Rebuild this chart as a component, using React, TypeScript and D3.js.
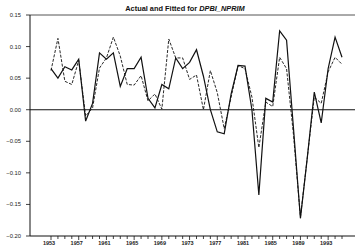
import React from "react";
import * as d3 from "d3";

const years: number[] = d3.range(1953, 1996);
const actual: number[] = [
  0.065, 0.05, 0.068, 0.063, 0.08, -0.018, 0.01, 0.09, 0.08, 0.09,
  0.037, 0.065, 0.065, 0.083, 0.018, 0.003, 0.04, 0.033, 0.082, 0.065,
  0.075, 0.095, 0.053, 0.0, -0.035, -0.038, 0.025, 0.07, 0.069, 0.0,
  -0.135, 0.018, 0.012, 0.125, 0.11, -0.03, -0.172, -0.075, 0.028, -0.021,
  0.065, 0.115, 0.083,
];
const fitted: number[] = [
  0.062, 0.113, 0.045, 0.04, 0.078, -0.01, 0.003, 0.066, 0.082, 0.115,
  0.085, 0.04, 0.039, 0.054, 0.014, 0.025, 0.001, 0.112, 0.082, 0.082,
  0.048, 0.055, 0.0, 0.062, 0.027, -0.03, 0.02, 0.07, 0.065, 0.02,
  -0.06, 0.012, 0.005, 0.083, 0.065, -0.04, -0.17, -0.075, 0.02, 0.01,
  0.06, 0.083, 0.072,
];
const yTicks: number[] = [0.15, 0.1, 0.05, 0.0, -0.05, -0.1, -0.15, -0.2];
const xLabelYears: number[] = d3.range(1953, 1994, 4);
const title = "Actual and Fitted for ";
const titleVar = "DPBI_NPRIM";

export default function App() {
  const W = 358, H = 249;
  const left = 30, right = 355, top = 15, bottom = 236;
  const x = d3.scaleLinear().domain([1953, 1995]).range([51, 342]);
  const y = d3.scaleLinear().domain([-0.2, 0.15]).range([bottom, top]);
  const line = d3
    .line<number>()
    .x((_, i) => x(years[i]))
    .y((d) => y(d));
  const fmt = d3.format(".2f");
  return (
    <svg
      width={W}
      height={H}
      style={{ position: "absolute", left: 0, top: 0, background: "#fff" }}
      fontFamily="Liberation Sans, Arial, sans-serif"
    >
      <rect width={W} height={H} fill="#fff" />
      <text x={185} y={11} textAnchor="middle" fontSize={7.4} fontWeight="bold" fill="#111">
        {title}
        <tspan fontStyle="italic">{titleVar}</tspan>
      </text>
      {/* frame */}
      <line x1={left} x2={right} y1={top} y2={top} stroke="#555" strokeWidth={1} />
      <line x1={left} x2={left} y1={top} y2={bottom} stroke="#111" strokeWidth={1} />
      <line x1={left} x2={right} y1={bottom} y2={bottom} stroke="#111" strokeWidth={1} />
      <line x1={left} x2={right} y1={y(0)} y2={y(0)} stroke="#111" strokeWidth={1.1} />
      {/* y ticks */}
      {yTicks.map((t) => (
        <g key={t}>
          <line x1={left - 4} x2={left} y1={y(t)} y2={y(t)} stroke="#111" strokeWidth={0.8} />
          <text x={21} y={y(t) + 2} textAnchor="end" fontSize={5.8} fill="#222">
            {t === 0 ? "0.00" : fmt(t)}
          </text>
        </g>
      ))}
      {/* x ticks */}
      {years.map((yr) => (
        <line
          key={yr}
          x1={x(yr)}
          x2={x(yr)}
          y1={bottom}
          y2={bottom + (xLabelYears.includes(yr) ? 4 : 3)}
          stroke="#111"
          strokeWidth={0.8}
        />
      ))}
      {xLabelYears.map((yr) => (
        <text key={yr} x={x(yr) - 2} y={245} textAnchor="middle" fontSize={5.5} fontWeight="bold" fill="#222">
          {yr}
        </text>
      ))}
      <path d={line(fitted) || ""} fill="none" stroke="#111" strokeWidth={0.9} strokeDasharray="3,1.5" />
      <path d={line(actual) || ""} fill="none" stroke="#111" strokeWidth={1.2} />
    </svg>
  );
}
